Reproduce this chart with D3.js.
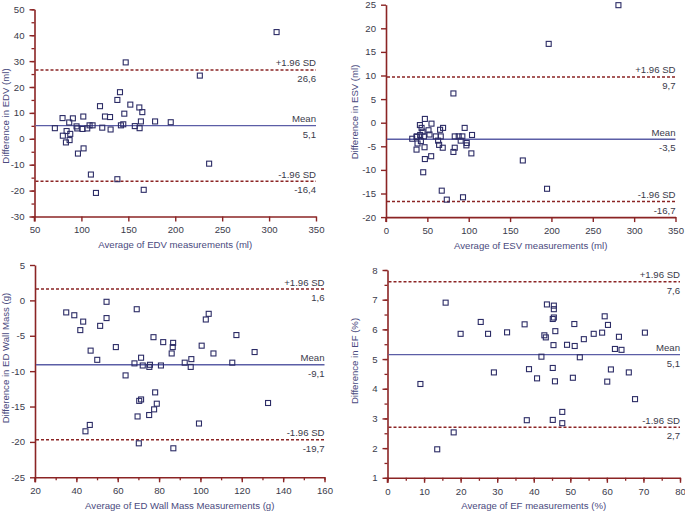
<!DOCTYPE html>
<html>
<head>
<meta charset="utf-8">
<script src="https://cdn.jsdelivr.net/npm/d3@7"></script>
<style>
html,body{margin:0;padding:0;background:#fff;}
svg{display:block;font-family:"Liberation Sans",Arial,sans-serif;}
</style>
</head>
<body>
<svg id="chart" width="685" height="511"></svg>
<script>
// ---- Data ----
const edvAvg  = [308,147.2,226.2,141.1,138.3,152.1,119.8,161.7,164.9,145.7,102,125.1,130.5,79.9,90.9,178.5,195.2,163.4,87,144.6,142.1,108.7,111.9,156.9,71.7,94.8,122.2,95.6,101.2,106.2,162,131.1,84.2,88.1,80.2,87.4,83.5,102.3,96.3,236.1,110.1,138.3,115.5,166.4];
const edvDiff = [41.2,29.5,24.4,18.0,15.0,13.2,12.6,12.1,10.3,9.7,8.6,8.6,8.4,8.0,7.9,6.7,6.4,6.7,6.3,5.6,5.2,5.2,5.2,4.9,4.1,4.8,4.3,4.0,3.8,4.0,4.1,3.6,3.0,1.9,1.2,-0.5,-1.4,-3.7,-5.7,-9.6,-13.8,-15.6,-20.9,-19.7];
const edvStats = [5.1, 26.6, -16.4];
const edvStatLabels = ["5,1", "26,6", "-16,4"];

const esvAvg  = [281,196.7,81.5,47,55,41,43,69,95.1,65.4,51.4,44.2,52.6,104,41.3,37.3,45.8,60.2,66.2,83.1,87.9,92.3,31.7,36.9,42.2,63,90.3,38.1,97.6,64.2,97.2,46.6,68.6,83.1,36.9,81.5,103.2,54.6,47,165.4,45,194.7,67.4,93.1,73.5];
const esvDiff = [24.9,16.7,6.2,0.8,-0.2,-0.5,-1.1,-1.1,-1.1,-1.5,-1.6,-1.9,-2.5,-2.6,-2.6,-2.9,-2.9,-2.9,-2.9,-2.9,-2.9,-2.9,-3.4,-3.0,-3.9,-3.8,-3.8,-4.4,-4.3,-4.7,-4.8,-5.2,-5.3,-5.3,-5.7,-6.2,-6.5,-7.1,-7.7,-8.0,-10.5,-14.0,-14.4,-15.8,-16.3];
const esvStats = [-3.5, 9.7, -16.7];
const esvStatLabels = ["-3,5", "9,7", "-16,7"];

const massAvg  = [35.1,39.0,43.3,41.9,54.6,54.6,51.5,46.9,50.1,59.1,69.2,63.8,68.1,71.3,72.1,75.3,75.6,77.3,82.0,86.8,86.6,86.1,80.9,92.4,95.3,95.6,100.6,102.6,104,106.3,115.4,117.4,126.2,132.7,78.1,71.3,70.4,78.9,77.6,75.2,69.6,99.3,46.5,44.4,70.2,86.9];
const massDiff = [-1.7,-2.1,-3.0,-4.2,-0.2,-2.5,-3.6,-7.1,-8.4,-6.6,-1.25,-10.6,-8.9,-8.1,-9.2,-9.4,-9.1,-5.2,-5.9,-6.0,-6.6,-7.5,-9.2,-8.8,-9.4,-8.3,-6.4,-2.7,-1.9,-7.5,-8.8,-4.9,-7.3,-14.5,-13.0,-14.0,-14.2,-14.6,-15.4,-16.2,-16.4,-17.4,-17.6,-18.5,-20.2,-20.9];
const massStats = [-9.1, 1.6, -19.7];
const massStatLabels = ["-9,1", "1,6", "-19,7"];

const efAvg  = [9.0,13.6,15.9,18.1,20.0,25.5,27.5,29.1,32.7,37.5,38.1,38.7,40.9,42.1,42.9,43.3,43.6,45.5,45.5,45.5,45.2,45.9,45.4,45.2,45.8,45.2,47.8,47.8,49.1,51.1,51.2,50.7,52.6,53.7,56.4,58.7,59.4,60.3,60.1,61.1,62.2,63.3,64.0,66.0,67.7,70.4];
const efDiff = [4.16,1.96,6.9,2.53,5.85,6.25,5.85,4.55,5.9,6.17,2.94,4.66,4.35,5.08,5.8,5.73,6.84,6.8,6.68,6.4,6.35,5.94,5.47,4.7,4.25,2.95,3.22,2.84,5.48,6.18,5.44,4.37,5.06,5.67,5.85,5.89,6.44,6.15,4.24,4.65,5.34,5.75,5.31,4.55,3.65,5.89];
const efStats = [5.15, 7.6, 2.7];
const efStatLabels = ["5,1", "7,6", "2,7"];

const statNames = ["Mean", "+1.96 SD", "-1.96 SD"];
const xTitles = ["Average of EDV measurements (ml)", "Average of ESV measurements (ml)", "Average of ED Wall Mass Measurements (g)", "Average of EF measurements (%)"];
const yTitles = ["Difference in EDV (ml)", "Difference in ESV (ml)", "Difference in ED Wall Mass (g)", "Difference in EF (%)"];

// ---- Layout ----
const AXIS = "#8b2424", PT = "#2c2c66", MEAN = "#5b5ea6", TXT = "#3a3a4a", TTL = "#4a4a7e";
const FS = 9.6;
const svg = d3.select("#chart");
const fmt = d => String(Math.round(d * 100) / 100);

const panels = [
  {xs:edvAvg, ys:edvDiff, st:edvStats, sl:edvStatLabels, xd:[50,350], xr:[34.5,316], yd:[-30,50], yr:[216.5,9.3], xt:50, yt:10, xm:null, ym:5, ytx:5.5, yty:116},
  {xs:esvAvg, ys:esvDiff, st:esvStats, sl:esvStatLabels, xd:[0,350], xr:[386,675.5], yd:[-20,25], yr:[217.1,4.7], xt:50, yt:5, xm:null, ym:null, ytx:355, yty:112},
  {xs:massAvg, ys:massDiff, st:massStats, sl:massStatLabels, xd:[20,160], xr:[35,324.5], yd:[-25,5], yr:[477.3,265], xt:20, yt:5, xm:10, ym:null, ytx:5.5, yty:358},
  {xs:efAvg, ys:efDiff, st:efStats, sl:efStatLabels, xd:[0,80], xr:[387.5,680], yd:[1,8], yr:[477.8,270], xt:10, yt:1, xm:5, ym:0.5, ytx:355, yty:361}
];

panels.forEach((p, i) => {
  const x = d3.scaleLinear().domain(p.xd).range(p.xr);
  const y = d3.scaleLinear().domain(p.yd).range(p.yr);
  const g = svg.append("g");
  const x0 = p.xr[0], x1 = p.xr[1], y0 = p.yr[0], y1 = p.yr[1];

  // minor ticks
  if (p.xm) {
    const mt = d3.range(p.xd[0], p.xd[1] + 1e-9, p.xm);
    g.append("g").attr("transform", `translate(0,${y0})`)
      .call(d3.axisBottom(x).tickValues(mt).tickSize(3).tickFormat(""))
      .call(s => { s.select(".domain").remove(); s.selectAll("line").attr("stroke", AXIS).attr("stroke-width", 1.3); });
  }
  if (p.ym) {
    const mt = d3.range(p.yd[0], p.yd[1] + 1e-9, p.ym);
    g.append("g").attr("transform", `translate(${x0},0)`)
      .call(d3.axisLeft(y).tickValues(mt).tickSize(3).tickFormat(""))
      .call(s => { s.select(".domain").remove(); s.selectAll("line").attr("stroke", AXIS).attr("stroke-width", 1.3); });
  }

  // major axes
  const xt = d3.range(p.xd[0], p.xd[1] + 1e-9, p.xt);
  const yt = d3.range(p.yd[0], p.yd[1] + 1e-9, p.yt);
  const gx = g.append("g").attr("transform", `translate(0,${y0})`)
    .call(d3.axisBottom(x).tickValues(xt).tickSize(5).tickPadding(5).tickSizeOuter(0).tickFormat(fmt));
  const gy = g.append("g").attr("transform", `translate(${x0},0)`)
    .call(d3.axisLeft(y).tickValues(yt).tickSize(5).tickPadding(5).tickSizeOuter(0).tickFormat(fmt));
  [gx, gy].forEach(a => {
    a.select(".domain").attr("stroke", AXIS).attr("stroke-width", 1.6);
    a.selectAll(".tick line").attr("stroke", AXIS).attr("stroke-width", 1.4);
    a.selectAll(".tick text").attr("fill", TXT).attr("font-size", FS).attr("font-family", "Liberation Sans, Arial, sans-serif");
  });
  // small extension of y axis below x axis
  g.append("line").attr("x1", x0).attr("x2", x0).attr("y1", y0).attr("y2", y0 + 5)
    .attr("stroke", AXIS).attr("stroke-width", 1.6);

  // reference lines
  p.st.forEach((v, k) => {
    const yy = y(v);
    g.append("line").attr("x1", x0 + 1).attr("x2", x1).attr("y1", yy).attr("y2", yy)
      .attr("stroke", k === 0 ? MEAN : AXIS)
      .attr("stroke-width", k === 0 ? 1.4 : 1.5)
      .attr("stroke-dasharray", k === 0 ? null : "3,2");
    g.append("text").attr("x", x1).attr("y", yy - 3.5).attr("text-anchor", "end")
      .attr("font-size", FS).attr("fill", TXT).text(statNames[k]);
    g.append("text").attr("x", x1).attr("y", yy + 12).attr("text-anchor", "end")
      .attr("font-size", FS).attr("fill", TXT).text(p.sl[k]);
  });

  // points
  g.selectAll("rect.pt").data(p.xs.map((d, j) => [d, p.ys[j]])).enter()
    .append("rect").attr("class", "pt")
    .attr("x", d => x(d[0]) - 2.5).attr("y", d => y(d[1]) - 2.5)
    .attr("width", 5).attr("height", 5)
    .attr("fill", "none").attr("stroke", PT).attr("stroke-width", 1.1);

  // titles
  g.append("text").attr("x", (x0 + x1) / 2).attr("y", y0 + 31.5).attr("text-anchor", "middle")
    .attr("font-size", FS).attr("fill", TTL).text(xTitles[i]);
  g.append("text").attr("transform", `translate(${p.ytx},${p.yty}) rotate(-90)`)
    .attr("text-anchor", "middle").attr("dy", "0.35em")
    .attr("font-size", FS).attr("fill", TTL).text(yTitles[i]);
});
</script>
</body>
</html>
